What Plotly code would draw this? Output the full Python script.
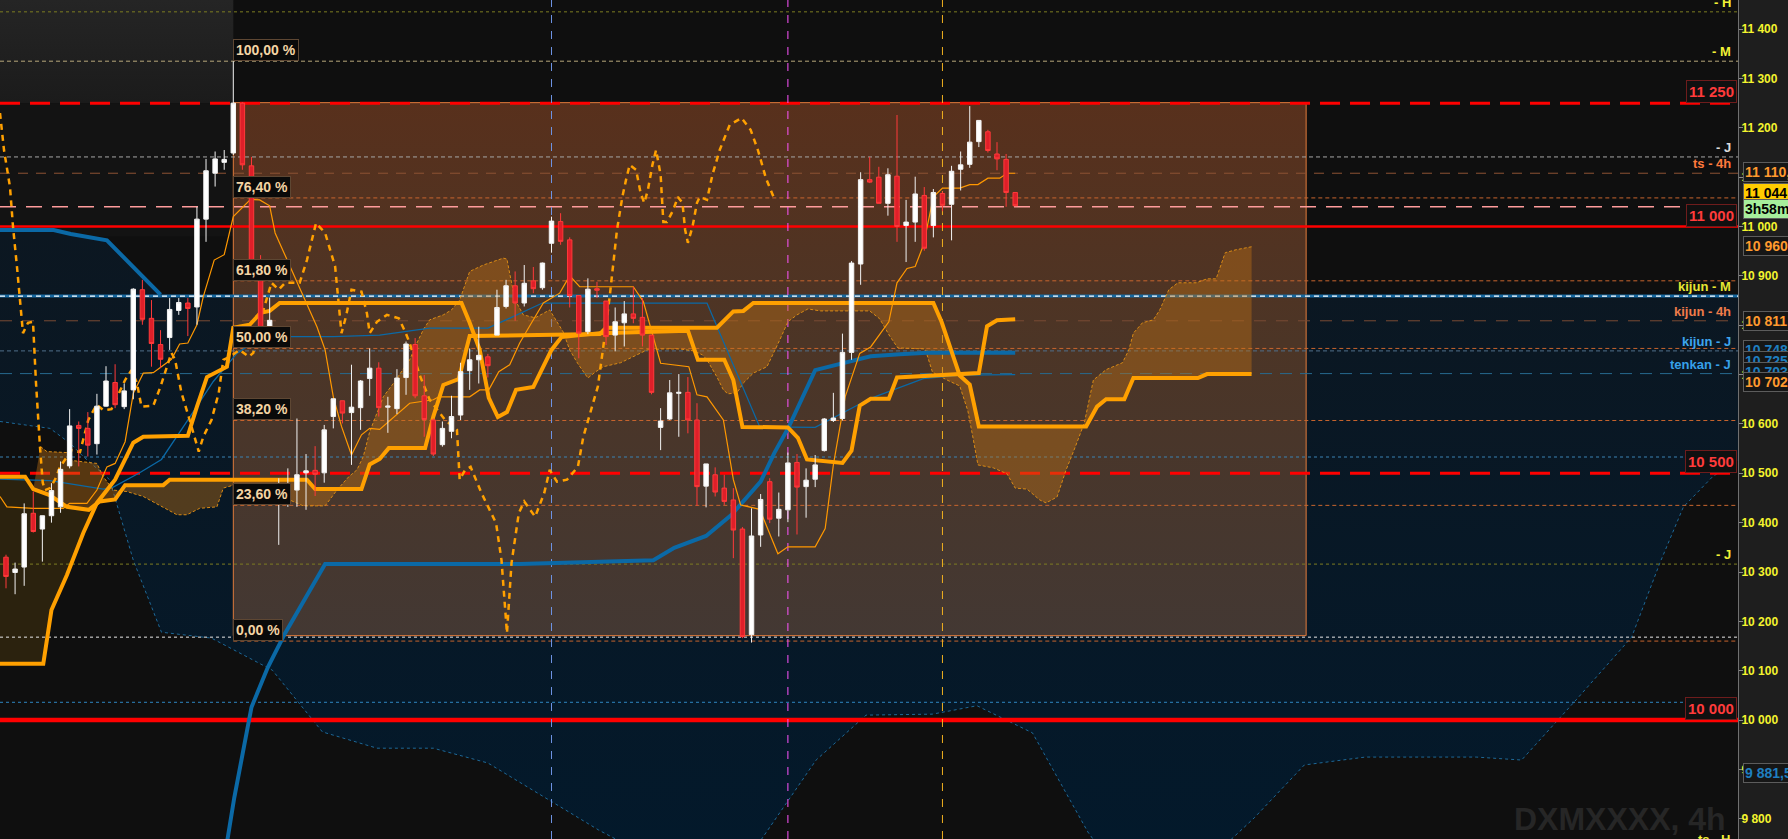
import plotly.graph_objects as go

# ---------------- candles 4h (x = numero do candle) ----------------
candle_x = list(range(112))
opens = [10330, 10299, 10310, 10419, 10387, 10414, 10432, 10515, 10597, 10591,
         10560, 10636, 10684, 10635, 10669, 10872, 10814, 10761, 10775, 10830,
         10845, 10837, 11015, 11108, 11130, 11149, 11250, 11123, 10920, 10784,
         10455, 10457, 10466, 10501, 10506, 10501, 10615, 10647, 10623, 10633,
         10692, 10713, 10634, 10631, 10694, 10761, 10657, 10608, 10558, 10585,
         10618, 10708, 10730, 10736, 10780, 10838, 10880, 10845, 10890, 10876,
         10966, 11010, 10973, 10860, 10787, 10874, 10849, 10780, 10805, 10823,
         10816, 10780, 10593, 10610, 10662, 10664, 10608, 10474, 10497, 10470,
         10446, 10387, 10173, 10375, 10483, 10409, 10426, 10522, 10473, 10488,
         10546, 10607, 10611, 10745, 10924, 11095, 11100, 11047, 11102, 11002,
         11009, 11063, 11002, 11067, 11045, 11116, 11126, 11172, 11192, 11147,
         11136, 11069]
highs = [10335, 10319, 10439, 10463, 10414, 10480, 10524, 10630, 10605, 10624,
         10661, 10717, 10721, 10682, 10875, 10892, 10851, 10790, 10855, 10855,
         10855, 11040, 11137, 11152, 11155, 11335, 11252, 11141, 10942, 10856,
         10490, 10510, 10611, 10539, 10555, 10598, 10651, 10647, 10720, 10689,
         10753, 10725, 10655, 10711, 10767, 10774, 10699, 10611, 10605, 10657,
         10724, 10753, 10797, 10742, 10872, 10892, 10909, 10922, 10918, 10927,
         11020, 11027, 10978, 10860, 10895, 10888, 10849, 10836, 10849, 10878,
         10855, 10780, 10632, 10689, 10701, 10695, 10642, 10519, 10512, 10497,
         10470, 10391, 10429, 10458, 10490, 10461, 10542, 10539, 10510, 10537,
         10612, 10663, 10783, 10930, 11110, 11141, 11121, 11118, 11226, 11054,
         11101, 11080, 11076, 11071, 11123, 11152, 11244, 11215, 11196, 11171,
         11147, 11069]
lows = [10267, 10255, 10272, 10380, 10321, 10400, 10420, 10510, 10514, 10534,
        10538, 10635, 10632, 10630, 10650, 10801, 10716, 10713, 10750, 10821,
        10778, 10801, 10969, 11081, 11115, 11145, 11115, 10915, 10770, 10780,
        10355, 10432, 10432, 10426, 10454, 10481, 10591, 10601, 10517, 10588,
        10657, 10615, 10582, 10620, 10659, 10652, 10574, 10535, 10554, 10571,
        10608, 10669, 10682, 10694, 10780, 10834, 10809, 10838, 10865, 10872,
        10947, 10963, 10836, 10733, 10782, 10855, 10760, 10747, 10757, 10804,
        10757, 10660, 10547, 10608, 10574, 10581, 10434, 10431, 10453, 10436,
        10328, 10166, 10157, 10351, 10399, 10372, 10401, 10376, 10410, 10472,
        10544, 10604, 10607, 10730, 10882, 11088, 11047, 11022, 10969, 10928,
        10969, 10951, 10978, 11031, 10972, 11073, 11119, 11161, 11150, 11114,
        11040, 11042]
closes = [10291, 10306, 10418, 10382, 10414, 10465, 10508, 10596, 10591, 10557,
          10636, 10687, 10639, 10667, 10873, 10812, 10763, 10731, 10832, 10846,
          10834, 11015, 11113, 11137, 11136, 11250, 11125, 10922, 10785, 10810,
          10463, 10467, 10497, 10505, 10498, 10588, 10651, 10622, 10634, 10687,
          10713, 10633, 10636, 10693, 10762, 10657, 10609, 10539, 10591, 10615,
          10706, 10730, 10739, 10718, 10836, 10880, 10845, 10885, 10874, 10926,
          11011, 10970, 10860, 10784, 10873, 10871, 10777, 10807, 10823, 10814,
          10780, 10664, 10606, 10663, 10664, 10608, 10473, 10519, 10462, 10443,
          10385, 10169, 10373, 10447, 10407, 10427, 10521, 10472, 10486, 10517,
          10610, 10612, 10745, 10926, 11095, 11090, 11047, 11105, 11000, 11009,
          11066, 10956, 11069, 11043, 11112, 11125, 11171, 11215, 11154, 11137,
          11069, 11042]

# ---------------- ichimoku 4h ----------------
kijun4h_x = [-0.66, 4.1, 5.0, 6.7, 8.5, 10.0, 12.0, 12.9, 14.0, 15.1, 20.0, 21.0, 22.1, 24.3, 25.0, 26.8,
             28.0, 29.0, 30.1, 50.1, 51.0, 52.1, 53.1, 54.1, 55.1, 56.1, 58.0, 60.0, 61.1, 65.3, 75.0, 76.1,
             79.0, 80.0, 81.0, 86.0, 87.1, 88.1, 92.0, 93.0, 93.9, 95.1, 97.1, 98.0, 107.0, 107.9, 109.0, 111.0]
kijun4h_y = [10114, 10114, 10223, 10294, 10379, 10440, 10487, 10521, 10562, 10574, 10576, 10635, 10695, 10716,
             10795, 10801, 10825, 10829, 10845, 10845, 10805, 10750, 10653, 10614, 10624, 10669, 10675, 10750,
             10776, 10784, 10789, 10730, 10730, 10689, 10594, 10593, 10572, 10528, 10521, 10546, 10637, 10651,
             10651, 10694, 10703, 10798, 10810, 10812]

tenkan4h_x = [-0.66, 0.1, 3.0, 6.3, 7.0, 8.9, 10.0, 11.1, 12.0, 13.1, 14.0, 15.1, 16.2, 17.1, 18.2, 19.1,
              20.0, 21.0, 21.7, 22.9, 24.0, 25.0, 26.9, 27.9, 29.0, 29.6, 33.1, 34.2, 35.1, 36.0, 36.9, 38.0,
              39.1, 40.0, 41.1, 43.2, 44.4, 47.0, 47.6, 51.0, 52.1, 53.1, 54.2, 55.4, 56.5, 58.0, 59.1, 60.9,
              62.0, 63.1, 69.0, 70.1, 72.0, 75.1, 76.0, 77.1, 78.9, 80.0, 80.8, 82.9, 84.9, 86.0, 89.0, 90.1,
              91.0, 92.3, 93.9, 95.1, 96.0, 97.1, 98.0, 99.1, 100.0, 100.9, 102.0, 103.0, 104.9, 106.0, 106.9,
              108.0, 109.3, 110.1, 111.0]
tenkan4h_y = [10453, 10432, 10429, 10429, 10439, 10439, 10466, 10513, 10520, 10564, 10662, 10703, 10704,
              10716, 10731, 10762, 10764, 10801, 10858, 10932, 10943, 11020, 11055, 11054, 11042, 10987, 10841,
              10797, 10750, 10655, 10595, 10537, 10578, 10591, 10589, 10622, 10642, 10649, 10655, 10655, 10669,
              10669, 10706, 10720, 10764, 10811, 10845, 10865, 10900, 10878, 10878, 10848, 10723, 10716, 10659,
              10655, 10608, 10487, 10436, 10427, 10337, 10351, 10351, 10388, 10517, 10655, 10743, 10756, 10778,
              10807, 10886, 10915, 10919, 10962, 11060, 11078, 11078, 11085, 11085, 11098, 11098, 11108, 11108]

chikou_x = [-0.66, -0.22, 0.44, 0.77, 1.21, 1.87, 2.42, 2.97, 3.3, 3.55, 3.74, 4.04, 4.29, 4.84, 5.39, 5.94,
            7.23, 8.14, 9.05, 9.98, 10.7, 11.6, 12.2, 13.1, 13.8, 14.4, 14.9, 16.2, 17.0, 17.7, 18.2, 18.6,
            19.3, 20.2, 21.2, 21.7, 22.6, 23.4, 23.9, 24.6, 25.7, 26.7, 27.2, 27.9, 28.7, 29.2, 30.0, 30.7,
            32.3, 33.1, 34.1, 35.1, 36.2, 36.9, 37.4, 38.0, 39.1, 39.7, 40.0, 40.8, 41.9, 43.2, 43.9, 44.4,
            45.5, 46.6, 48.3, 49.6, 49.9, 50.5, 51.1, 52.3, 53.9, 54.5, 55.1, 55.6, 56.4, 57.0, 58.2, 59.2,
            59.8, 60.6, 61.7, 62.9, 63.5, 64.1, 65.1, 65.7, 66.4, 67.2, 67.8, 68.2, 68.6, 69.3, 69.8, 70.2,
            70.6, 71.1, 71.5, 72.0, 72.3, 72.7, 73.4, 73.9, 74.4, 74.7, 75.0, 75.5, 76.0, 76.3, 77.1, 77.7,
            78.5, 79.6, 80.9, 81.9, 82.7, 83.6, 84.6]
chikou_y = [11230, 11155, 11080, 11000, 10918, 10784, 10805, 10807, 10683, 10602, 10553, 10481, 10466, 10470,
            10487, 10513, 10547, 10543, 10608, 10639, 10628, 10630, 10655, 10689, 10709, 10683, 10635, 10637,
            10676, 10716, 10744, 10730, 10663, 10608, 10544, 10574, 10608, 10663, 10730, 10736, 10750, 10736,
            10744, 10805, 10858, 10886, 10872, 10886, 10886, 10932, 11007, 10987, 10919, 10784, 10818, 10872,
            10868, 10824, 10784, 10807, 10821, 10814, 10787, 10764, 10699, 10649, 10608, 10588, 10487, 10507,
            10513, 10460, 10399, 10324, 10176, 10318, 10419, 10443, 10412, 10460, 10507, 10483, 10487, 10513,
            10574, 10612, 10676, 10757, 10858, 10993, 11061, 11095, 11125, 11115, 11068, 11048, 11074, 11125,
            11155, 11105, 11009, 11009, 11034, 11060, 11048, 10993, 10967, 10999, 11048, 11060, 11054, 11105,
            11155, 11206, 11220, 11196, 11155, 11097, 11052]

senkou_a_x = [3.8, 4.5, 6.7, 7.2, 10.0, 10.7, 11.8, 13.3, 15.1, 17.3, 18.8, 19.9, 21.3, 23.2, 23.9, 25.0,
              27.9, 31.2, 32.7, 35.1, 36.4, 37.7, 38.6, 39.3, 40.0, 40.8, 41.5, 42.6, 43.7, 44.4, 45.2, 45.9,
              46.6, 48.1, 49.0, 49.9, 51.0, 52.5, 54.7, 55.1, 55.4, 56.0, 56.9, 58.2, 59.8, 61.3, 62.0, 62.9,
              64.0, 64.8, 65.7, 67.6, 69.4, 70.5, 72.3, 74.1, 75.6, 76.6, 77.1, 78.2, 78.9, 79.4, 80.4, 81.1,
              82.2, 83.7, 85.1, 86.0, 87.0, 88.2, 89.6, 95.0, 96.1, 97.2, 98.1, 101.1, 101.9, 103.5, 104.9,
              105.8, 106.4, 106.9, 108.6, 110.1, 111.0, 112.3, 113.7, 114.4, 115.6, 116.6, 117.6, 118.6, 119.6,
              121.0, 122.8, 123.5, 124.0, 125.0, 126.2, 126.9, 127.9, 128.9, 130.9, 132.1, 133.1, 134.1, 135.3,
              137.0]
senkou_a_y = [10554, 10544, 10542, 10526, 10520, 10493, 10466, 10463, 10453, 10432, 10416, 10416, 10429,
              10432, 10470, 10476, 10460, 10446, 10434, 10434, 10466, 10493, 10507, 10534, 10584, 10622, 10655,
              10682, 10710, 10730, 10764, 10791, 10811, 10821, 10831, 10851, 10909, 10922, 10936, 10934, 10905,
              10851, 10821, 10815, 10831, 10786, 10750, 10722, 10693, 10705, 10716, 10724, 10740, 10750, 10752,
              10752, 10748, 10740, 10730, 10695, 10669, 10661, 10663, 10683, 10703, 10716, 10770, 10807, 10821,
              10833, 10829, 10829, 10813, 10778, 10754, 10752, 10705, 10689, 10677, 10626, 10568, 10517, 10511,
              10499, 10470, 10468, 10446, 10440, 10452, 10507, 10553, 10602, 10689, 10710, 10724, 10750, 10784,
              10805, 10811, 10831, 10872, 10886, 10886, 10894, 10894, 10947, 10953, 10959]

senkou_b_x = [-0.66, 2.1, 3.0, 4.8, 6.7, 9.1, 10.3, 12.0, 13.1, 17.3, 18.0, 33.1, 34.0, 39.1, 40.0, 41.1,
              42.1, 46.1, 47.0, 48.1, 49.8, 51.0, 65.3, 66.0, 78.2, 80.0, 81.1, 82.2, 102.0, 102.9, 104.9,
              106.0, 107.0, 118.8, 120.0, 121.0, 123.0, 124.0, 131.1, 132.1, 137.0]
senkou_b_y = [10493, 10493, 10468, 10456, 10432, 10426, 10443, 10447, 10476, 10476, 10487, 10487, 10468,
              10468, 10518, 10529, 10551, 10551, 10615, 10679, 10691, 10778, 10782, 10795, 10795, 10828, 10829,
              10845, 10845, 10807, 10698, 10680, 10595, 10595, 10635, 10650, 10650, 10693, 10693, 10701, 10701]

# ---------------- ichimoku J / M (azul) ----------------
kijun_m_x = [-0.66, 5.24, 7.13, 11.1, 17.0]
kijun_m_y = [10993, 10993, 10985, 10972, 10862]
kijun_j_x = [24.2, 25.1, 27.0, 28.8, 30.7, 33.2, 35.1, 56.5, 71.2, 73.5, 77.0, 79.8, 83.0, 84.5, 86.1, 89.0,
             92.1, 95.1, 98.3, 101.3, 111.0]
kijun_j_y = [9740, 9842, 10026, 10107, 10176, 10257, 10316, 10316, 10324, 10349, 10373, 10416, 10483, 10541,
             10594, 10709, 10724, 10737, 10741, 10744, 10744]
tenkan_j_x = [-0.66, 4.84, 10.7, 11.8, 14.7, 17.1, 19.9, 22.8, 25.4, 27.1, 28.8, 36.0, 41.1, 46.6, 53.0, 59.0,
              77.1, 82.9, 89.0, 95.1, 100.9, 104.9, 111.0]
tenkan_j_y = [10488, 10485, 10468, 10472, 10501, 10528, 10605, 10686, 10743, 10764, 10777, 10777, 10780, 10794,
              10794, 10845, 10845, 10594, 10593, 10652, 10692, 10699, 10700]
cloud_j_low_x = [-0.66, 4.84, 7.04, 8.5, 11.4, 14.0, 17.1, 22.6, 29.3, 34.8, 40.8, 47.0, 53.0, 65.2, 69.0, 82.4,
                 89.1, 94.6, 101.9, 106.8, 112.9, 119.0, 120.3, 133.7, 137.3, 142.8, 149.5, 161.7, 166.7, 172.7,
                 178.8, 181.9, 184.5, 187.7, 190.5]
cloud_j_low_y = [10605, 10591, 10561, 10534, 10487, 10324, 10178, 10166, 10101, 9976, 9943, 9943, 9913, 9777,
                 9740, 9740, 9919, 10010, 10012, 10029, 9974, 9773, 9740, 9740, 9802, 9909, 9925, 9925, 9919,
                 10041, 10168, 10318, 10432, 10493, 10527]

# ---------------- niveis ----------------
guide_prices = [11435, 11335, 11141, 11108, 11040, 10859, 10809, 10748, 10702, 10533, 10316, 10168, 10036]
guide_labels = ['- H', '- M', '- J', 'ts - 4h', '', 'kijun - M', 'kijun - 4h', 'kijun - J', 'tenkan - J',
                '', '- J', '', '']
red_levels = [11250, 11000, 10500, 10000]
red_labels = ['11 250', '11 000', '10 500', '10 000']
fib_levels = [11335, 11058, 10890, 10753, 10607, 10435, 10160]
fib_labels = ['100,00 %', '76,40 %', '61,80 %', '50,00 %', '38,20 %', '23,60 %', '0,00 %']
box_x = [25, 143]
box_y = [10171, 11251]
vline_x = [60, 86, 103]
tag_text = ['11 110,', '11 044', '3h58m', '10 960,', '10 811,', '10 748,', '10 725', '10 703', '10 702,', '9 881,5']
tag_prices = [11110, 11068, 11036, 10960, 10808, 10750, 10728, 10706, 10686, 9893]
tick_vals = [9800, 9900, 10000, 10100, 10200, 10300, 10400, 10500, 10600, 10700, 10800, 10900, 11000,
             11100, 11200, 11300, 11400]
tick_text = ['9 800', '9 900', '10 000', '10 100', '10 200', '10 300', '10 400', '10 500', '10 600', '10 700',
             '10 800', '10 900', '11 000', '11 100', '11 200', '11 300', '11 400']

X_LEFT, X_RIGHT = -0.66, 190.5
Y_LOW, Y_HIGH = 9759, 11459
FONT = 'Liberation Sans, Arial, sans-serif'

fig = go.Figure()


def linha(x, y, color, width=1.0, dash='solid'):
    fig.add_trace(go.Scatter(x=x, y=y, mode='lines', line=dict(color=color, width=width, dash=dash),
                             hoverinfo='skip', showlegend=False))


def area(x, y, color='rgba(0,0,0,0)', grad=None, line_color='rgba(0,0,0,0)', line_width=0):
    kw = {}
    if grad:
        kw['fillgradient'] = dict(type='vertical', colorscale=grad)
    fig.add_trace(go.Scatter(x=x, y=y, mode='lines', fill='toself', fillcolor=color,
                             line=dict(color=line_color, width=line_width),
                             hoverinfo='skip', showlegend=False, **kw))


# painel claro no canto superior esquerdo
area([X_LEFT, box_x[0], box_x[0], X_LEFT], [Y_HIGH, Y_HIGH, red_levels[0], red_levels[0]],
     grad=[[0, '#1b1b1b'], [1, '#252525']])
area([X_LEFT, box_x[0], box_x[0], X_LEFT], [red_levels[0], red_levels[0], 10980, 10980], color='#131313')

# nuvem azul (J)
top_x = kijun_m_x + [X_RIGHT]
top_y = kijun_m_y + [guide_prices[5]]
area(top_x + cloud_j_low_x[::-1], top_y + cloud_j_low_y[::-1], grad=[[0, '#03192b'], [1, '#0c1721']])
linha(cloud_j_low_x, cloud_j_low_y, '#1d6897', 1, 'dot')

# nuvem escura a esquerda (entre kijun 4h e senkou B)
kb = [(x, y) for x, y in zip(senkou_b_x, senkou_b_y) if x <= 10.3]
kk = [(x, y) for x, y in zip(kijun4h_x, kijun4h_y) if x <= 10.0]
area([p[0] for p in kb] + [p[0] for p in kk][::-1], [p[1] for p in kb] + [p[1] for p in kk][::-1],
     color='rgba(120,85,15,0.28)')

# caixa fibonacci
area([box_x[0], box_x[1], box_x[1], box_x[0], box_x[0]], [box_y[0], box_y[0], box_y[1], box_y[1], box_y[0]],
     grad=[[0, '#433833'], [0.55, '#4c3526'], [1, '#58301c']], line_color='#e27b3b', line_width=1)

# linhas horizontais
guide_style = [('#7d7d22', 1, '3px,3px'), ('#b7a77a', 1, '4px,3px'), ('#a6a6a6', 1, '4px,3px'),
               ('#8e5234', 1, '10px,8px'), ('#ff9c9c', 1.5, '16px,10px'), ('#1668a0', 3, 'solid'),
               ('#7a4a34', 1, '12px,10px'), ('#4f6f8a', 1, '4px,3px'), ('#27698f', 1, '12px,8px'),
               ('#3b82b3', 1, '3px,3px'), ('#7d7d22', 1, '3px,3px'), ('#e8e8e8', 1, '3px,3px'),
               ('#2f86c2', 1, '3px,3px')]
for p, (c, w, d) in zip(guide_prices, guide_style):
    linha([X_LEFT, X_RIGHT], [p, p], c, w, d)
# kijun M: azul com tracejado branco
linha([X_LEFT, X_RIGHT], [guide_prices[5], guide_prices[5]], '#ffffff', 1.2, '5px,4px')

for p in fib_levels[1:]:
    linha([box_x[0], X_RIGHT], [p, p], '#c8652e', 1, '4px,3px')

red_style = [(3, '20px,10px'), (2.5, 'solid'), (3, '20px,10px'), (4.5, 'solid')]
for p, (w, d) in zip(red_levels, red_style):
    linha([X_LEFT, X_RIGHT], [p, p], '#ff0000', w, d)

# linhas verticais
for vx, c in zip(vline_x, ['#6d92e2', '#ff55ff', '#f0b020']):
    linha([vx, vx], [Y_LOW, Y_HIGH], c, 1, '8px,8px')

# nuvem 4h
kb = [(x, y) for x, y in zip(senkou_b_x, senkou_b_y) if x >= 3.0]
area(senkou_a_x + [p[0] for p in kb][::-1], senkou_a_y + [p[1] for p in kb][::-1],
     color='rgba(195,115,20,0.40)')
linha(senkou_a_x, senkou_a_y, '#d98a14', 1, '3px,2px')

# linhas azuis
linha(tenkan_j_x, tenkan_j_y, '#0b69a6', 1.3)
linha(kijun_m_x, kijun_m_y, '#0b69a6', 4)
linha(kijun_j_x, kijun_j_y, '#0b69a6', 4)

# linhas laranja
linha(tenkan4h_x, tenkan4h_y, '#ff9800', 1.2)
linha(chikou_x, chikou_y, '#ffa000', 2.5, '6px,5px')
linha(senkou_b_x, senkou_b_y, '#ffa000', 4)
linha(kijun4h_x, kijun4h_y, '#ffa000', 4)

# candles num eixo sobreposto, para ficarem por cima das areas
fig.add_trace(go.Candlestick(
    x=candle_x, open=opens, high=highs, low=lows, close=closes,
    increasing=dict(line=dict(color='#f2f2f2', width=1), fillcolor='#ffffff'),
    decreasing=dict(line=dict(color='#ff3a3a', width=1), fillcolor='#df1f29'),
    whiskerwidth=0, hoverinfo='skip', showlegend=False, xaxis='x2', yaxis='y2'))

ann = []
# rotulos fibonacci
for p, t in zip(fib_levels, fib_labels):
    ann.append(dict(x=box_x[0], y=p, xref='x', yref='y', text='<b>%s</b>' % t, showarrow=False,
                    xanchor='left', yanchor='bottom', bgcolor='#0a0a0a', bordercolor='#5e4733',
                    borderwidth=1, borderpad=2, font=dict(family=FONT, size=14, color='#f4d4a4')))

# rotulos das linhas a direita
label_colors = {'- H': '#f2f236', '- M': '#f2f236', '- J': '#dcdcdc', 'ts - 4h': '#ff7a3c',
                'kijun - M': '#e6e633', 'kijun - 4h': '#ef7c4a', 'kijun - J': '#3ea6ee',
                'tenkan - J': '#36a0ea'}
for i, (p, t) in enumerate(zip(guide_prices, guide_labels)):
    if not t:
        continue
    c = label_colors.get(t, '#f2f236')
    if i == 10:
        c = '#f2f236'
    ann.append(dict(x=0.997, y=p, xref='paper', yref='y', text='<b>%s</b>' % t, showarrow=False,
                    xanchor='right', yanchor='bottom', font=dict(family=FONT, size=13, color=c)))
ann.append(dict(x=0.997, y=0, xref='paper', yref='paper', text='<b>ts - H</b>', showarrow=False,
                xanchor='right', yanchor='middle', font=dict(family=FONT, size=13, color='#f2f236')))

# caixas dos niveis vermelhos
for p, t in zip(red_levels, red_labels):
    ann.append(dict(x=0.9995, y=p, xref='paper', yref='y', text='<b>%s</b>' % t, showarrow=False,
                    xanchor='right', yanchor='bottom', bgcolor='#101010', bordercolor='#6e1c1c',
                    borderwidth=1, borderpad=2, font=dict(family=FONT, size=15, color='#ff3b3b')))

# etiquetas no eixo de precos
tag_fg = ['#ff9a2e', '#000000', '#000000', '#ff9a2e', '#ff9a2e', '#1f7fc0', '#1f7fc0', '#1f7fc0', '#ff9a2e',
          '#1f7fc0']
tag_bg = ['#161616', '#ffcc00', '#a6ee9c', '#161616', '#161616', '#161616', '#161616', '#161616', '#161616',
          '#161616']
for t, p, fg, bg in zip(tag_text, tag_prices, tag_fg, tag_bg):
    ann.append(dict(x=1.003, y=p, xref='paper', yref='y', text='<b>%s</b>' % t, showarrow=False,
                    xanchor='left', yanchor='middle', bgcolor=bg, bordercolor='#5c5c5c', borderwidth=1,
                    borderpad=1, font=dict(family=FONT, size=14, color=fg)))

# marca d'agua
ann.append(dict(x=0.994, y=0.0, xref='paper', yref='paper', text='<b>DXMXXXX, 4h</b>', showarrow=False,
                xanchor='right', yanchor='bottom', font=dict(family=FONT, size=32, color='#262626')))

fig.update_layout(
    width=1788, height=839,
    margin=dict(l=0, r=50, t=0, b=0),
    paper_bgcolor='#1e1e1e',
    plot_bgcolor='#0f0f0f',
    showlegend=False,
    annotations=ann,
    xaxis=dict(range=[X_LEFT, X_RIGHT], visible=False, rangeslider=dict(visible=False), showgrid=False),
    xaxis2=dict(range=[X_LEFT, X_RIGHT], visible=False, overlaying='x', rangeslider=dict(visible=False)),
    yaxis=dict(side='right', range=[Y_LOW, Y_HIGH], tickvals=tick_vals,
               ticktext=['<b>%s</b>' % t for t in tick_text],
               tickfont=dict(family=FONT, size=12, color='#f4f42e'), ticklabelstandoff=-4,
               ticks='outside', ticklen=4, tickcolor='#8a8a8a', showline=True, linecolor='#707070',
               showgrid=False, zeroline=False, fixedrange=True),
    yaxis2=dict(range=[Y_LOW, Y_HIGH], visible=False, overlaying='y', side='right'),
)

# sem margem branca do body e sem barra de ferramentas
fig.write_html('out.html', config={'displayModeBar': False},
               post_script="document.body.style.margin='0px';")
